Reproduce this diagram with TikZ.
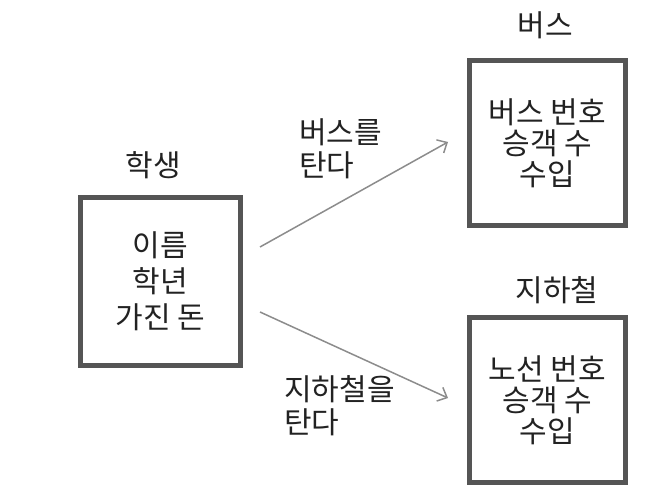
\documentclass[tikz,border=0pt]{standalone}
\usepackage{fontspec}
\setmainfont{Noto Sans CJK KR}
\usetikzlibrary{arrows.meta}
\definecolor{boxgray}{HTML}{555555}
\definecolor{arrgray}{HTML}{8C8C8C}
\definecolor{txtgray}{HTML}{222222}
\tikzset{
  objbox/.style={draw=boxgray, line width=4.6pt, align=center, text=txtgray, inner sep=0pt},
  objname/.style={text=txtgray, inner sep=0pt, font=\fontsize{30}{30}\selectfont},
  msg/.style={text=txtgray, inner sep=0pt, align=left, anchor=west, font=\fontsize{30}{33}\selectfont},
  msgline/.style={draw=arrgray, line width=1.5pt, -{Straight Barb[length=8pt,width=15pt]}}
}
\begin{document}
\begin{tikzpicture}[x=1pt,y=1pt]
\useasboundingbox (0,0) rectangle (648,493);
\node[objbox, minimum width=160.4pt, minimum height=168.4pt, font=\fontsize{30}{36}\selectfont] (student) at (160.5,211.5) {이름\\학년\\가진 돈};
\node[objbox, minimum width=156.4pt, minimum height=165.4pt, font=\fontsize{30}{31}\selectfont] (bus) at (547.5,350) {버스 번호\\승객 수\\수입};
\node[objbox, minimum width=156.4pt, minimum height=165.4pt, font=\fontsize{30}{31}\selectfont] (subway) at (547.5,93) {노선 번호\\승객 수\\수입};
\node[objname] (studentname) at (153,328) {학생};
\node[objname] (busname) at (545,468) {버스};
\node[objname] (subwayname) at (557,203) {지하철};
\draw[msgline] ([shift={(17,34.5)}]student.east) -- ([shift={(-19,1)}]bus.west);
\draw[msgline] ([shift={(17,-30.5)}]student.east) -- ([shift={(-19,2)}]subway.west);
\node[msg] (takebus) at (299,344.5) {버스를\\탄다};
\node[msg] (takesubway) at (284,87) {지하철을\\탄다};
\end{tikzpicture}
\end{document}
